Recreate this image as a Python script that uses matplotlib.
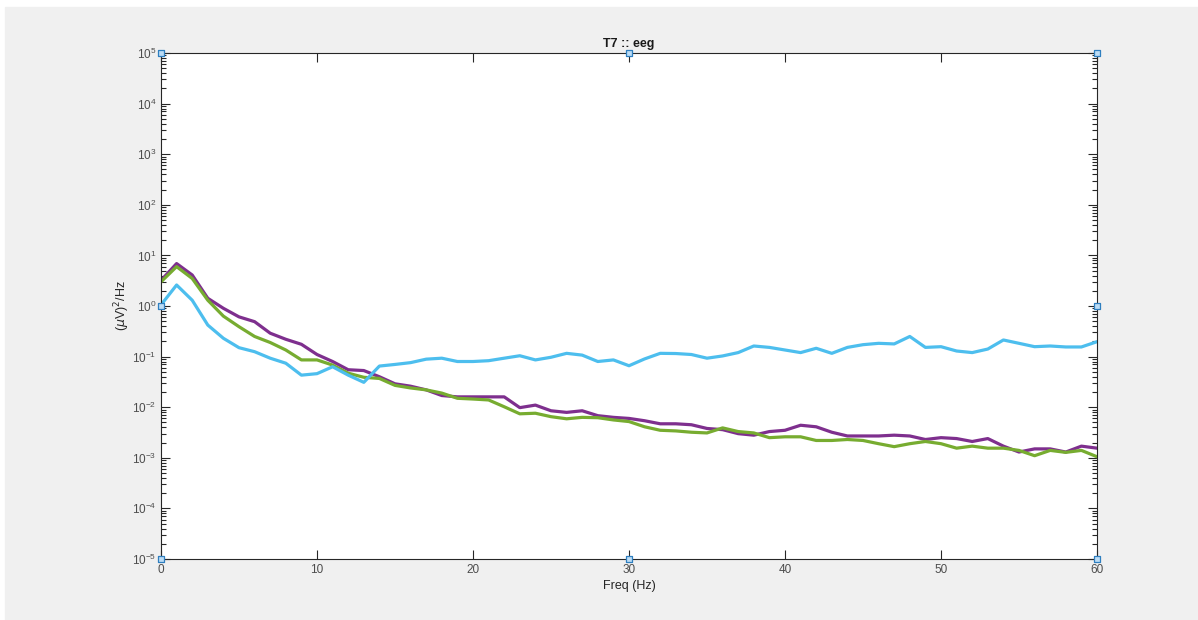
import numpy as np
import matplotlib
matplotlib.use("Agg")
import matplotlib.pyplot as plt
from matplotlib.ticker import NullFormatter, FixedLocator

plt.rcParams['font.family'] = ['Liberation Sans', 'DejaVu Sans']
plt.rcParams['mathtext.fontset'] = 'dejavusans'

# frequency bins (Hz)
freq = np.arange(0, 61)

# power spectral density, (uV)^2/Hz
psd_purple = [3.2, 6.9, 4.1, 1.42, 0.9, 0.61, 0.49, 0.29, 0.22, 0.175,
              0.11, 0.08, 0.055, 0.053, 0.04, 0.029, 0.026, 0.022, 0.017, 0.016,
              0.016, 0.016, 0.016, 0.0098, 0.011, 0.0085, 0.0079, 0.0085, 0.0068, 0.0063,
              0.006, 0.0054, 0.0047, 0.0047, 0.0045, 0.0038, 0.0036, 0.003, 0.0028, 0.0033,
              0.0035, 0.0044, 0.0041, 0.0032, 0.0027, 0.0027, 0.0027, 0.0028, 0.0027, 0.0023,
              0.0025, 0.0024, 0.0021, 0.0024, 0.0017, 0.0013, 0.0015, 0.0015, 0.0013, 0.0017,
              0.00155]
psd_green = [3.0, 6.0, 3.5, 1.3, 0.63, 0.39, 0.25, 0.19, 0.135, 0.086,
             0.086, 0.068, 0.047, 0.039, 0.037, 0.027, 0.024, 0.022, 0.019, 0.015,
             0.0145, 0.0139, 0.0102, 0.0074, 0.0076, 0.0065, 0.0059, 0.0063, 0.0062, 0.0056,
             0.0052, 0.0041, 0.0035, 0.0034, 0.0032, 0.0031, 0.0039, 0.0033, 0.0031, 0.0025,
             0.0026, 0.0026, 0.0022, 0.0022, 0.0023, 0.0022, 0.0019, 0.00166, 0.0019, 0.0021,
             0.0019, 0.00155, 0.0017, 0.00155, 0.00155, 0.0014, 0.0011, 0.0014, 0.00128, 0.0014,
             0.00105]
psd_cyan = [1.05, 2.6, 1.3, 0.42, 0.23, 0.15, 0.125, 0.093, 0.074, 0.043,
            0.046, 0.063, 0.043, 0.031, 0.065, 0.07, 0.076, 0.089, 0.093, 0.08,
            0.08, 0.083, 0.093, 0.104, 0.086, 0.097, 0.116, 0.107, 0.08, 0.086,
            0.066, 0.09, 0.116, 0.115, 0.11, 0.093, 0.103, 0.12, 0.162, 0.152,
            0.135, 0.12, 0.146, 0.116, 0.152, 0.172, 0.183, 0.178, 0.25, 0.152,
            0.157, 0.129, 0.12, 0.141, 0.213, 0.183, 0.157, 0.162, 0.155, 0.155,
            0.197]

x_ticks = [0, 10, 20, 30, 40, 50, 60]
decades = np.arange(-5, 6)

fig = plt.figure(figsize=(11.98, 6.2), dpi=100, facecolor='white')
# MATLAB-ish grey figure panel
fig.patches.append(plt.Rectangle((5 / 1198, 0), 1, 1 - 7 / 620,
                                 transform=fig.transFigure, color='#f0f0f0',
                                 zorder=-10))

ax = fig.add_axes([161 / 1198, 61 / 620, 936 / 1198, 506 / 620])
ax.set_facecolor('white')

ax.plot(freq, psd_purple, color='#7E2F8E', lw=2.3)
ax.plot(freq, psd_green, color='#77AC30', lw=2.3)
ax.plot(freq, psd_cyan, color='#4DBEEE', lw=2.3)

ax.set_yscale('log')
ax.set_xlim(0, 60)
ax.set_ylim(1e-5, 1e5)
ax.xaxis.set_major_locator(FixedLocator(x_ticks))
ax.yaxis.set_major_locator(FixedLocator(10.0 ** decades))
minor = [m * 10.0 ** d for d in decades[:-1] for m in range(2, 10)]
ax.yaxis.set_minor_locator(FixedLocator(minor))
ax.yaxis.set_minor_formatter(NullFormatter())
ax.xaxis.set_minor_locator(FixedLocator([]))

ax.tick_params(which='both', direction='in', top=True, right=True,
               colors='#262626', labelcolor='#4d4d4d', labelsize=8.5)
ax.tick_params(which='major', length=6.5, width=0.8)
ax.tick_params(which='minor', length=3.5, width=0.8)
for s in ax.spines.values():
    s.set_color('#262626')
    s.set_linewidth(0.8)

ax.set_title('T7 :: eeg', fontsize=9, fontweight='bold', color='#1a1a1a', pad=4)
ax.set_xlabel('Freq (Hz)', fontsize=9, color='#262626', labelpad=3)
ax.set_ylabel(r'($\mu$V)$^2$/Hz', fontsize=9, color='#262626', labelpad=0)

# selection handles around the axes
hx = [0, 0.5, 1, 0, 1, 0, 0.5, 1]
hy = [0, 0, 0, 0.5, 0.5, 1, 1, 1]
ax.scatter(hx, hy, marker='s', s=22, facecolor='#bcdcf5', edgecolor='#2f7fc0',
           linewidth=0.9, transform=ax.transAxes, clip_on=False, zorder=5)

fig.savefig('out.png', dpi=100, facecolor=fig.get_facecolor())
